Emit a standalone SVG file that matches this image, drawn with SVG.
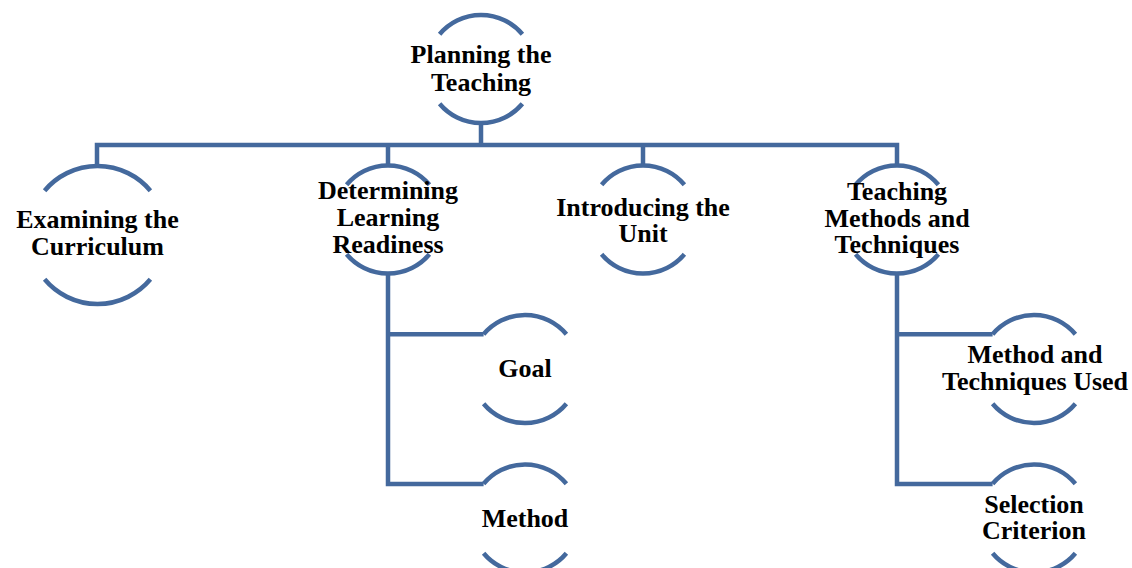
<svg xmlns="http://www.w3.org/2000/svg" xmlns:xlink="http://www.w3.org/1999/xlink" width="1132" height="568" viewBox="0 0 1132 568">
<style>
.arc{fill:none;stroke:#44699d;stroke-width:4.5}
.conn{fill:none;stroke:#44699d;stroke-width:4.5;stroke-linejoin:miter}
.lbl{font-family:"Liberation Serif","Times New Roman",serif;font-weight:bold;font-size:26px;fill:#000;text-anchor:middle}
</style>
<defs>
<path id="ring" d="M-41.4,-34.7 A54,54 0 0 1 41.4,-34.7 M-41.4,34.7 A54,54 0 0 0 41.4,34.7"/>
</defs>
<rect width="1132" height="568" fill="#fff"/>
<g id="connectors">
<path class="conn" d="M481,123 V145 M97,167 V145 H897 V165.5 M388,145 V165.5 M643,145 V165.5"/>
<path class="conn" d="M388,273.5 V484 H483.6 M388,334.3 H483.6"/>
<path class="conn" d="M897,273.5 V484 H992.6 M897,334.3 H992.6"/>
</g>
<g id="planning">
<use href="#ring" class="arc" transform="translate(481,69)"/>
<text class="lbl" x="481" y="63">Planning the</text>
<text class="lbl" x="481" y="91">Teaching</text>
</g>
<g id="examining">
<path class="arc" d="M44.6,190.7 A69,69 0 0 1 150.4,190.7 M44.6,279.3 A69,69 0 0 0 150.4,279.3"/>
<text class="lbl" x="97.5" y="228">Examining the</text>
<text class="lbl" x="97.5" y="255">Curriculum</text>
</g>
<g id="determining">
<use href="#ring" class="arc" transform="translate(388,219.5)"/>
<text class="lbl" x="388" y="199">Determining</text>
<text class="lbl" x="388" y="226">Learning</text>
<text class="lbl" x="388" y="253">Readiness</text>
</g>
<g id="introducing">
<use href="#ring" class="arc" transform="translate(643,219.5)"/>
<text class="lbl" x="643" y="216">Introducing the</text>
<text class="lbl" x="643" y="242">Unit</text>
</g>
<g id="teaching">
<use href="#ring" class="arc" transform="translate(897,219.5)"/>
<text class="lbl" x="897" y="200">Teaching</text>
<text class="lbl" x="897" y="227">Methods and</text>
<text class="lbl" x="897" y="253">Techniques</text>
</g>
<g id="goal">
<use href="#ring" class="arc" transform="translate(525,369)"/>
<text class="lbl" x="525" y="377">Goal</text>
</g>
<g id="method">
<use href="#ring" class="arc" transform="translate(525,518.5)"/>
<text class="lbl" x="525" y="527">Method</text>
</g>
<g id="methods-used">
<use href="#ring" class="arc" transform="translate(1034,369)"/>
<text class="lbl" x="1035" y="363">Method and</text>
<text class="lbl" x="1035" y="390">Techniques Used</text>
</g>
<g id="selection">
<use href="#ring" class="arc" transform="translate(1034,518.5)"/>
<text class="lbl" x="1034" y="513">Selection</text>
<text class="lbl" x="1034" y="539">Criterion</text>
</g>
</svg>
